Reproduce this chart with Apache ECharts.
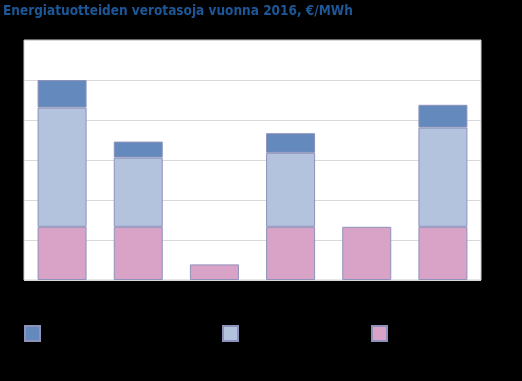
<!DOCTYPE html>
<html>
<head>
<meta charset="utf-8">
<script src="https://cdn.jsdelivr.net/npm/echarts@6/dist/echarts.min.js"></script>
<style>html,body{margin:0;padding:0;background:#000;}#c{width:522px;height:381px;}</style>
</head>
<body>
<div id="c"></div>
<script>
var categories = ['Kivihiili', 'Maakaasu', 'Turve', 'Kevyt polttoöljy', 'Sähkö', 'Raskas polttoöljy'];
var seriesNames = ['Huoltovarmuusmaksu', 'Hiilidioksidivero', 'Energiasisältövero'];
var topValues = [6.9, 4.0, '-', 4.9, '-', 5.7];
var middleValues = [29.8, 17.3, '-', 18.5, '-', 24.8];
var baseValues = [13.3, 13.3, 3.9, 13.3, 13.3, 13.3];
var yTicks = [0, 10, 20, 30, 40, 50, 60];

var colors = ['#6489bd', '#b3c3de', '#d9a3c8'];
var border = '#8e92bb';
var chart = echarts.init(document.getElementById('c'));
function legendFor(i, left) {
  return {
    data: [seriesNames[i]], left: left, top: 320, itemWidth: 15, itemHeight: 15,
    icon: 'rect', textStyle: {color: '#000', fontSize: 11}
  };
}
chart.setOption({
  backgroundColor: '#000',
  animation: false,
  title: {
    text: 'Energiatuotteiden verotasoja vuonna 2016, €/MWh',
    left: 3, top: 4, padding: 0,
    textStyle: {color: '#1d5798', fontSize: 13.5, fontWeight: 'bold', fontFamily: 'DejaVu Sans Condensed'}
  },
  legend: [legendFor(0, 19), legendFor(1, 217), legendFor(2, 366)],
  grid: {left: 24, right: 41, top: 40, bottom: 101, show: true, backgroundColor: '#fff', borderColor: '#cfcfcf', borderWidth: 1},
  xAxis: {
    type: 'category', data: categories,
    axisLine: {show: false}, axisTick: {show: false},
    axisLabel: {show: false}
  },
  yAxis: {
    type: 'value', min: yTicks[0], max: yTicks[yTicks.length - 1], interval: 10,
    axisLine: {show: false}, axisTick: {show: false},
    axisLabel: {show: false},
    splitLine: {lineStyle: {color: '#d9d9d9', width: 1}}
  },
  series: [
    {name: seriesNames[2], type: 'bar', stack: 's', data: baseValues, barWidth: 49,
     itemStyle: {color: colors[2], borderColor: border, borderWidth: 1}},
    {name: seriesNames[1], type: 'bar', stack: 's', data: middleValues, barWidth: 49,
     itemStyle: {color: colors[1], borderColor: border, borderWidth: 1}},
    {name: seriesNames[0], type: 'bar', stack: 's', data: topValues, barWidth: 49,
     itemStyle: {color: colors[0], borderColor: border, borderWidth: 1}}
  ]
});
</script>
</body>
</html>
